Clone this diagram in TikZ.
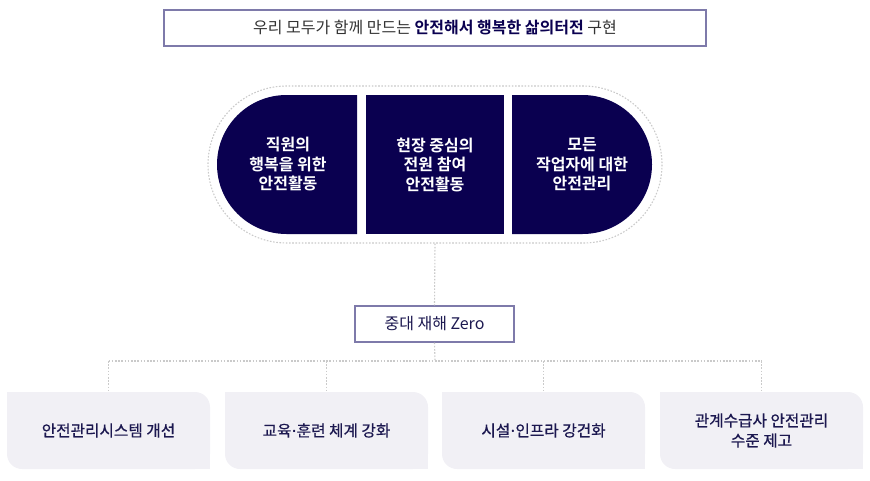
\documentclass[tikz,border=0pt]{standalone}
\usepackage{fontspec}
\setmainfont{Noto Sans CJK KR}[BoldFont={Noto Sans CJK KR Bold}]
\newfontfamily\medfont[FakeBold=0.6]{Noto Sans CJK KR}
\newfontfamily\dotfont[FakeBold=0.6]{Noto Sans}
\newcommand{\mdot}{{\dotfont\kern0.5pt·\kern0.5pt}}
\usetikzlibrary{shapes.misc}
\definecolor{navy}{HTML}{0A0050}
\definecolor{txtnavy}{HTML}{1C1850}
\definecolor{lav}{HTML}{7E7AAA}
\definecolor{boxfill}{HTML}{F1F0F5}
\definecolor{dotgray}{HTML}{CACACA}
\definecolor{titlegray}{HTML}{333333}
\tikzset{
  dotline/.style={draw=dotgray, line width=1.1pt, dash pattern=on 1.6pt off 1.6pt},
  darktext/.style={text=white, inner sep=0pt, align=center, font=\bfseries\fontsize{16}{19.5}\selectfont},
  framebox/.style={draw=lav, line width=1.2pt, fill=white, inner sep=0pt, minimum height=36pt},
  lowbox/.style={fill=boxfill, rounded corners=15pt, inner sep=0pt, minimum width=203pt,
    minimum height=77pt, align=center, text=txtnavy, font=\medfont\fontsize{15.7}{20}\selectfont},
}
\begin{document}
\begin{tikzpicture}[x=1pt,y=-1pt]
\useasboundingbox (0,0) rectangle (870,480);
% title
\node[framebox, minimum width=542pt, font=\fontsize{16}{18}\selectfont] (title) at (435,28)
  {\textcolor{titlegray}{우리 모두가 함께 만드는} \textcolor{navy}{\bfseries 안전해서 행복한 삶의터전} \textcolor{titlegray}{구현}};
% capsule
\node[shape=rounded rectangle, dotline, minimum width=454pt, minimum height=157pt, inner sep=0pt] (cap) at (435,164.5) {};
\fill[navy] (357,95) -- (286.5,95) arc[start angle=270, end angle=90, radius=69.5] -- (357,234) -- cycle;
\fill[navy] (366,95) rectangle (504,234);
\fill[navy] (512,95) -- (582.5,95) arc[start angle=-90, end angle=90, radius=69.5] -- (512,234) -- cycle;
\node[darktext] (d1) at (288,164.5) {직원의\\행복을 위한\\안전활동};
\node[darktext] (d2) at (435,164.5) {현장 중심의\\전원 참여\\안전활동};
\node[darktext] (d3) at (582,164.5) {모든\\작업자에 대한\\안전관리};
% zero
\node[framebox, minimum width=159pt, text=txtnavy, font=\fontsize{16}{18}\selectfont] (zero) at (434.5,324) {중대 재해 Zero};
% bottom boxes
\node[lowbox] (b1) at (108.5,430.5) {안전관리시스템 개선};
\node[lowbox] (b2) at (326.5,430.5) {교육\mdot 훈련 체계 강화};
\node[lowbox] (b3) at (543.5,430.5) {시설\mdot 인프라 강건화};
\node[lowbox] (b4) at (761.5,430.5) {관계수급사 안전관리\\수준 제고};
\foreach \b in {b1,b2,b3,b4}{
  \fill[boxfill] (\b.north west) rectangle ++(16pt,-16pt);
  \fill[boxfill] (\b.south east) rectangle ++(-16pt,16pt);
}
% connectors
\coordinate (j) at (435,361);
\draw[dotline] (cap.south) -- (zero.north);
\draw[dotline] (zero.south) -- (j);
\draw[dotline] (b1.north |- j) -- (b4.north |- j);
\foreach \b in {b1,b2,b3,b4}{
  \draw[dotline] (\b.north |- j) -- (\b.north);
}
\end{tikzpicture}
\end{document}
